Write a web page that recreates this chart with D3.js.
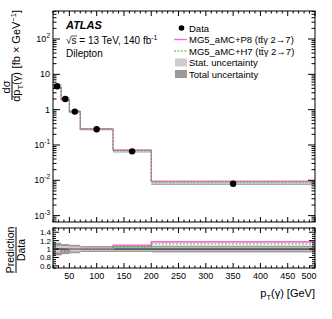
<!DOCTYPE html>
<html>
<head>
<meta charset="utf-8">
<script src="https://d3js.org/d3.v7.min.js"></script>
<style>
body { margin: 0; background: #fff; }
svg { display: block; font-family: "Liberation Sans", Arial, sans-serif; }
</style>
</head>
<body>
<svg id="svg" width="332" height="319"></svg>
<script>
// bin edges and values
const binEdges = [20, 35, 50, 70, 130, 200, 500];
const dataVals = [4.6, 2.0, 0.88, 0.28, 0.066, 0.0080];
const ratioP8 = [0.90, 0.96, 1.00, 1.01, 1.09, 1.17];
const ratioH7 = [0.88, 0.95, 0.99, 1.01, 1.05, 1.12];
const statUnc = [0.08, 0.07, 0.06, 0.04, 0.04, 0.04];
const totUnc = [0.15, 0.12, 0.10, 0.07, 0.07, 0.08];
const xTicks = [50, 100, 150, 200, 250, 300, 350, 400, 450, 500];
const ratioTicks = [0.6, 0.8, 1, 1.2, 1.4];
const yDecades = [-3, -2, -1, 0, 1, 2];

const svg = d3.select("#svg");
const left = 53, right = 315;
const mainTop = 11, mainBot = 222;
const ratTop = 228, ratBot = 268;

const x = d3.scaleLinear().domain([20, 500]).range([left, right]);
const y = d3.scaleLog().domain([6.6e-4, 620]).range([mainBot, mainTop]);
const yr = d3.scaleLinear().domain([0.55, 1.5]).range([ratBot, ratTop]);

const bins = dataVals.map((v, i) => ({
  lo: binEdges[i], hi: binEdges[i + 1], v: v,
  c: (binEdges[i] + binEdges[i + 1]) / 2,
  p8: ratioP8[i], h7: ratioH7[i], st: statUnc[i], tot: totUnc[i]
}));

const colP8 = "#ff66dd", colH7 = "#33bb22";
const dark = "#9a9a9a", light = "#cdcdcd";

function stepPath(sy, f) {
  let p = "";
  bins.forEach((b, i) => {
    const yy = sy(f(b));
    p += (i === 0 ? "M" : "L") + x(b.lo) + "," + yy + "L" + x(b.hi) + "," + yy;
  });
  return p;
}

// ---------- main panel ----------
const gm = svg.append("g");
gm.selectAll("rect.tot").data(bins).enter().append("rect")
  .attr("x", d => x(d.lo)).attr("width", d => x(d.hi) - x(d.lo))
  .attr("y", d => y(d.v * (1 + d.tot))).attr("height", d => y(d.v * (1 - d.tot)) - y(d.v * (1 + d.tot)))
  .attr("fill", dark);
gm.selectAll("rect.st").data(bins).enter().append("rect")
  .attr("x", d => x(d.lo)).attr("width", d => x(d.hi) - x(d.lo))
  .attr("y", d => y(d.v * (1 + d.st))).attr("height", d => y(d.v * (1 - d.st)) - y(d.v * (1 + d.st)))
  .attr("fill", light);
gm.append("path").attr("d", stepPath(y, b => b.v * b.p8))
  .attr("fill", "none").attr("stroke", colP8).attr("stroke-width", 1.4);
gm.append("path").attr("d", stepPath(y, b => b.v * b.h7))
  .attr("fill", "none").attr("stroke", colH7).attr("stroke-width", 1.2).attr("stroke-dasharray", "2,1.5");
gm.selectAll("circle").data(bins).enter().append("circle")
  .attr("cx", d => x(d.c)).attr("cy", d => y(d.v)).attr("r", 3.2).attr("fill", "#000");

// ---------- ratio panel ----------
const gr = svg.append("g");
gr.selectAll("rect.tot").data(bins).enter().append("rect")
  .attr("x", d => x(d.lo)).attr("width", d => x(d.hi) - x(d.lo))
  .attr("y", d => yr(1 + d.tot)).attr("height", d => yr(1 - d.tot) - yr(1 + d.tot))
  .attr("fill", dark);
gr.selectAll("rect.st").data(bins).enter().append("rect")
  .attr("x", d => x(d.lo)).attr("width", d => x(d.hi) - x(d.lo))
  .attr("y", d => yr(1 + d.st)).attr("height", d => yr(1 - d.st) - yr(1 + d.st))
  .attr("fill", light);
gr.append("line").attr("x1", left).attr("x2", right).attr("y1", yr(1)).attr("y2", yr(1))
  .attr("stroke", "#000").attr("stroke-width", 1);
gr.append("path").attr("d", stepPath(yr, b => b.p8))
  .attr("fill", "none").attr("stroke", colP8).attr("stroke-width", 1.6);
gr.append("path").attr("d", stepPath(yr, b => b.h7))
  .attr("fill", "none").attr("stroke", colH7).attr("stroke-width", 1.2).attr("stroke-dasharray", "2,1.5");

// ---------- frames and ticks ----------
function frame(t, b) {
  svg.append("rect").attr("x", left).attr("y", t).attr("width", right - left).attr("height", b - t)
    .attr("fill", "none").attr("stroke", "#000").attr("stroke-width", 1);
}
frame(mainTop, mainBot);
frame(ratTop, ratBot);

function xTickMarks(t, b, big, small) {
  for (let v = 20; v <= 500; v += 10) {
    const len = v % 50 === 0 ? big : small;
    const xx = x(v);
    svg.append("line").attr("x1", xx).attr("x2", xx).attr("y1", b).attr("y2", b - len).attr("stroke", "#000");
    svg.append("line").attr("x1", xx).attr("x2", xx).attr("y1", t).attr("y2", t + len).attr("stroke", "#000");
  }
}
xTickMarks(mainTop, mainBot, 5, 2.5);
xTickMarks(ratTop, ratBot, 5, 2.5);

// log ticks main
yDecades.concat([-4]).forEach(e => {
  for (let k = 1; k <= 9; k++) {
    const v = k * Math.pow(10, e);
    if (v < y.domain()[0] || v > y.domain()[1]) continue;
    const len = k === 1 ? 7 : 3.5;
    const yy = y(v);
    svg.append("line").attr("x1", left).attr("x2", left + len).attr("y1", yy).attr("y2", yy).attr("stroke", "#000");
    svg.append("line").attr("x1", right).attr("x2", right - len).attr("y1", yy).attr("y2", yy).attr("stroke", "#000");
  }
});
const ylab = svg.append("g").attr("font-size", 9);
yDecades.forEach(e => {
  const t = ylab.append("text").attr("x", left - 3).attr("y", y(Math.pow(10, e)) + 3).attr("text-anchor", "end");
  if (e === 0) t.text("1");
  else if (e === 1) t.text("10");
  else { t.append("tspan").text("10"); t.append("tspan").attr("dy", -4).attr("font-size", 6.5).text(e); }
});

// ratio y ticks
for (let v = 0.55; v <= 1.5001; v += 0.05) {
  const major = Math.abs(Math.round(v * 10) / 10 - v) < 1e-6 && Math.round(v * 10) % 2 === 0;
  const len = major ? 6 : 3;
  const yy = yr(v);
  svg.append("line").attr("x1", left).attr("x2", left + len).attr("y1", yy).attr("y2", yy).attr("stroke", "#000");
  svg.append("line").attr("x1", right).attr("x2", right - len).attr("y1", yy).attr("y2", yy).attr("stroke", "#000");
}
svg.append("g").attr("font-size", 8).selectAll("text").data(ratioTicks).enter().append("text")
  .attr("x", left - 2).attr("y", d => yr(d) + 3).attr("text-anchor", "end").text(d => d);

svg.append("g").attr("font-size", 9).selectAll("text").data(xTicks).enter().append("text")
  .attr("x", d => x(d)).attr("y", 279).attr("text-anchor", d => d === 500 ? "end" : "middle")
  .attr("dx", d => d === 500 ? 1.5 : 0).text(d => d);

// ---------- titles ----------
const xt = svg.append("text").attr("x", right).attr("y", 297).attr("text-anchor", "end").attr("font-size", 11);
xt.append("tspan").text("p");
xt.append("tspan").attr("dy", 3).attr("font-size", 7.5).text("T");
xt.append("tspan").attr("dy", -3).text("(γ) [GeV]");

const yt = svg.append("g").attr("transform", "translate(0,87) rotate(-90)").attr("font-size", 11);
yt.append("text").attr("x", 0).attr("y", 10).attr("text-anchor", "middle").text("dσ");
yt.append("line").attr("x1", -13).attr("x2", 13).attr("y1", 12).attr("y2", 12).attr("stroke", "#000");
const yd = yt.append("text").attr("x", 0).attr("y", 20).attr("text-anchor", "middle");
yd.append("tspan").text("dp");
yd.append("tspan").attr("dy", 3).attr("font-size", 7.5).text("T");
yd.append("tspan").attr("dy", -3).text("(γ)");
const yu = yt.append("text").attr("x", 77).attr("y", 20).attr("text-anchor", "end");
yu.append("tspan").text("[fb × GeV");
yu.append("tspan").attr("dy", -4).attr("font-size", 7.5).text("−1");
yu.append("tspan").attr("dy", 4).text("]");

const rt = svg.append("g").attr("transform", "translate(0,250) rotate(-90)").attr("font-size", 10.5);
rt.append("text").attr("x", 0).attr("y", 14).attr("text-anchor", "middle").text("Prediction");
rt.append("line").attr("x1", -23).attr("x2", 23).attr("y1", 16).attr("y2", 16).attr("stroke", "#000");
rt.append("text").attr("x", 0).attr("y", 25).attr("text-anchor", "middle").text("Data");

// ---------- labels ----------
svg.append("text").attr("x", 66).attr("y", 29).attr("font-size", 11)
  .attr("font-weight", "bold").attr("font-style", "italic").text("ATLAS");
const en = svg.append("text").attr("x", 66).attr("y", 44).attr("font-size", 10);
en.append("tspan").text("√s = 13 TeV, 140 fb");
en.append("tspan").attr("dy", -4).attr("font-size", 7).text("-1");
svg.append("line").attr("x1", 71.5).attr("x2", 77).attr("y1", 36).attr("y2", 36)
  .attr("stroke", "#000").attr("stroke-width", 0.7);
svg.append("text").attr("x", 66).attr("y", 57).attr("font-size", 10).text("Dilepton");

// ---------- legend ----------
const legY = [28, 39.5, 51, 62.5, 74];
const lg = svg.append("g").attr("font-size", 9.5);
lg.append("circle").attr("cx", 181.5).attr("cy", legY[0]).attr("r", 2.8);
lg.append("line").attr("x1", 174).attr("x2", 187).attr("y1", legY[1]).attr("y2", legY[1])
  .attr("stroke", colP8).attr("stroke-width", 1.4);
lg.append("line").attr("x1", 174).attr("x2", 187).attr("y1", legY[2]).attr("y2", legY[2])
  .attr("stroke", colH7).attr("stroke-width", 1.2).attr("stroke-dasharray", "2,1.5");
lg.append("rect").attr("x", 175).attr("y", legY[3] - 4).attr("width", 12).attr("height", 8).attr("fill", light);
lg.append("rect").attr("x", 175).attr("y", legY[4] - 4).attr("width", 12).attr("height", 8).attr("fill", dark);
const legText = ["Data", "MG5_aMC+P8 (tt\u0304γ 2→7)", "MG5_aMC+H7 (tt\u0304γ 2→7)", "Stat. uncertainty", "Total uncertainty"];
lg.selectAll("text").data(legText).enter().append("text")
  .attr("x", 189).attr("y", (d, i) => legY[i] + 3.5).text(d => d);
</script>
</body>
</html>
